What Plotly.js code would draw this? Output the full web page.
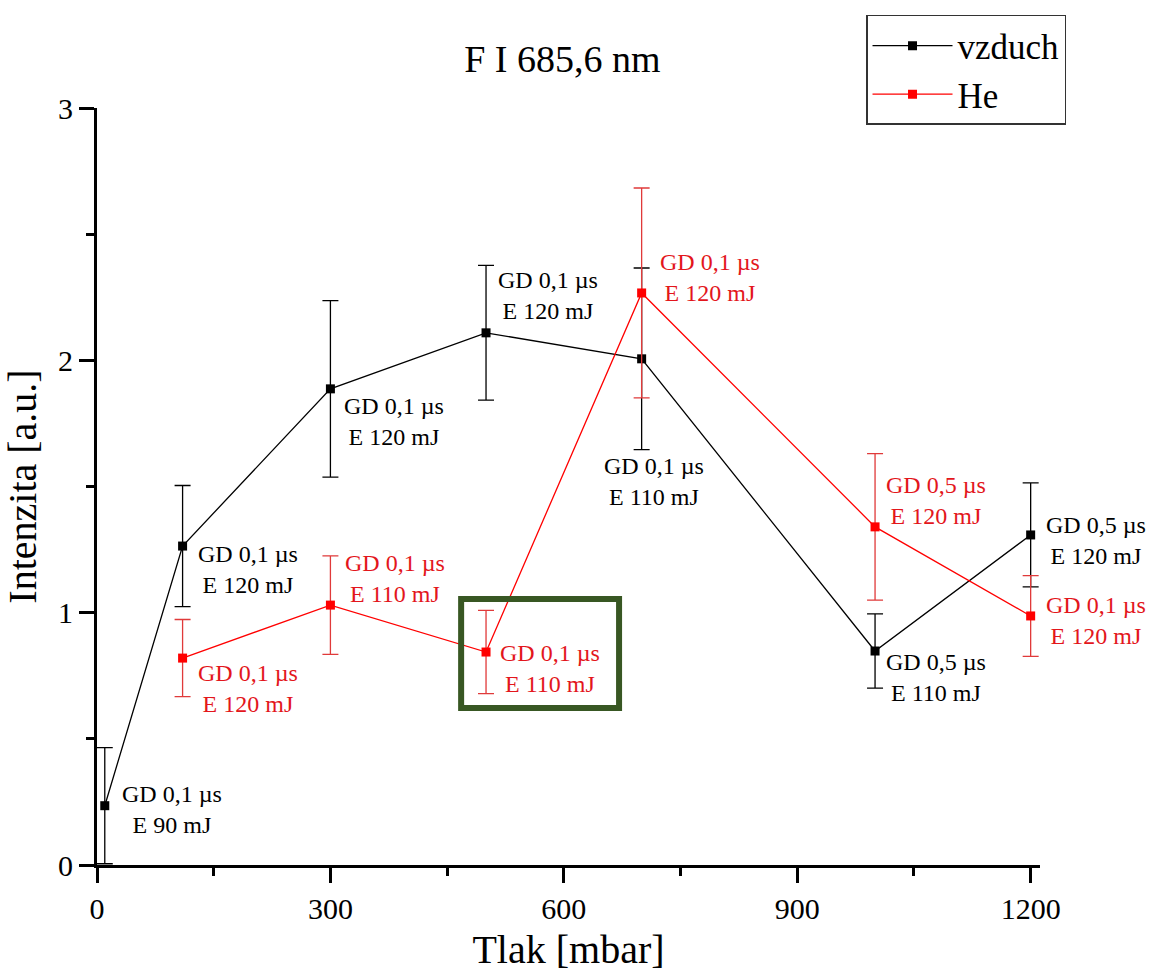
<!DOCTYPE html>
<html>
<head>
<meta charset="utf-8">
<script src="https://cdn.plot.ly/plotly-3.0.1.min.js"></script>
<style>html,body{margin:0;padding:0;background:#fff;}#chart{width:1151px;height:972px;}</style>
</head>
<body>
<div id="chart"></div>
<script>
// ---- data ----
const vzduchPressure = [10, 110, 300, 500, 700, 1000, 1200];
const vzduchIntensity = [0.235, 1.264, 1.887, 2.109, 2.006, 0.848, 1.308];
const vzduchError = [0.23, 0.24, 0.35, 0.267, 0.36, 0.147, 0.206];
const vzduchGD = ['0,1', '0,1', '0,1', '0,1', '0,1', '0,5', '0,5'];
const vzduchE = [90, 120, 120, 120, 110, 110, 120];

const hePressure = [110, 300, 500, 700, 1000, 1200];
const heIntensity = [0.820, 1.030, 0.844, 2.267, 1.340, 0.987];
const heError = [0.153, 0.195, 0.165, 0.416, 0.29, 0.16];
const heGD = ['0,1', '0,1', '0,1', '0,1', '0,5', '0,1'];
const heE = [120, 110, 110, 120, 120, 120];

const xTicks = [0, 300, 600, 900, 1200];
const yTicks = [0, 1, 2, 3];

// ---- styles / label offsets (pixels) ----
const vzduchOffsets = [[15,-4],[13,-23],[12,-33],[10,37],[-40,-123],[9,-26],[13,-6]];
const heOffsets = [[13,-30],[13,27],[12,-16],[16,15],[9,26],[13,-5]];

const FONT = 'Liberation Serif, Times New Roman, serif';
const BLACK = '#000000';
const RED = '#ff0000';
const RED_TEXT = '#e3161c';

function label(gd, e) { return 'GD ' + gd + ' \u00b5s<br>E ' + e + ' mJ'; }

const traces = [
  {
    name: 'vzduch', type: 'scatter', mode: 'lines+markers',
    x: vzduchPressure, y: vzduchIntensity,
    line: {color: BLACK, width: 1.3},
    marker: {symbol: 'square', size: 9, color: BLACK},
    error_y: {type: 'data', array: vzduchError, visible: true, color: BLACK, thickness: 1.3, width: 8}
  },
  {
    name: 'He', type: 'scatter', mode: 'lines+markers',
    x: hePressure, y: heIntensity,
    line: {color: RED, width: 1.3},
    marker: {symbol: 'square', size: 9, color: RED},
    error_y: {type: 'data', array: heError, visible: true, color: '#e03a3a', thickness: 1.3, width: 8}
  }
];

const annotations = [];
vzduchPressure.forEach((p, i) => {
  annotations.push({
    x: p, y: vzduchIntensity[i], xref: 'x', yref: 'y',
    text: label(vzduchGD[i], vzduchE[i]), showarrow: false,
    xanchor: 'left', yanchor: 'middle', align: 'center',
    xshift: vzduchOffsets[i][0], yshift: vzduchOffsets[i][1],
    font: {family: FONT, size: 24, color: BLACK}
  });
});
hePressure.forEach((p, i) => {
  annotations.push({
    x: p, y: heIntensity[i], xref: 'x', yref: 'y',
    text: label(heGD[i], heE[i]), showarrow: false,
    xanchor: 'left', yanchor: 'middle', align: 'center',
    xshift: heOffsets[i][0], yshift: heOffsets[i][1],
    font: {family: FONT, size: 24, color: RED_TEXT}
  });
});

const layout = {
  width: 1151, height: 972,
  paper_bgcolor: '#ffffff', plot_bgcolor: '#ffffff',
  margin: {l: 97, r: 111, t: 108, b: 107, pad: 0},
  title: {
    text: 'F I 685,6 nm', x: 0.4935, xanchor: 'center', xref: 'paper',
    y: 0.940, yanchor: 'middle', yref: 'container',
    font: {family: FONT, size: 38, color: BLACK}
  },
  showlegend: true,
  legend: {
    x: 0.8155, y: 1.1229, xanchor: 'left', yanchor: 'top',
    bgcolor: '#ffffff', bordercolor: '#333333', borderwidth: 1.5,
    font: {family: FONT, size: 35, color: BLACK},
    tracegroupgap: 0, itemwidth: 80
  },
  xaxis: {
    range: [0, 1212], tickvals: xTicks, ticktext: xTicks.map(String),
    showline: true, linecolor: BLACK, linewidth: 3, mirror: false,
    ticks: 'outside', ticklen: 15, tickwidth: 3, tickcolor: BLACK,
    minor: {ticks: 'outside', ticklen: 8, tickwidth: 3, tickcolor: BLACK, dtick: 150, tick0: 0, showgrid: false},
    showgrid: false, zeroline: false,
    tickfont: {family: FONT, size: 30, color: BLACK},
    title: {text: 'Tlak [mbar]', font: {family: FONT, size: 40, color: BLACK}, standoff: 20},
    automargin: false
  },
  yaxis: {
    range: [0, 3], tickvals: yTicks, ticktext: yTicks.map(String),
    showline: true, linecolor: BLACK, linewidth: 3, mirror: false,
    ticks: 'outside', ticklen: 15, tickwidth: 3, tickcolor: BLACK,
    minor: {ticks: 'outside', ticklen: 8, tickwidth: 3, tickcolor: BLACK, dtick: 0.5, tick0: 0, showgrid: false},
    showgrid: false, zeroline: false,
    tickfont: {family: FONT, size: 30, color: BLACK},
    title: {text: 'Intenzita [a.u.]', font: {family: FONT, size: 40, color: BLACK}, standoff: 10},
    automargin: false
  },
  shapes: [
    {type: 'rect', xref: 'x', yref: 'y', x0: 468, x1: 671, y0: 0.622, y1: 1.054,
     line: {color: '#385723', width: 6}, fillcolor: 'rgba(0,0,0,0)'}
  ],
  annotations: annotations
};

Plotly.newPlot('chart', traces, layout, {displayModeBar: false, staticPlot: true});
</script>
</body>
</html>
